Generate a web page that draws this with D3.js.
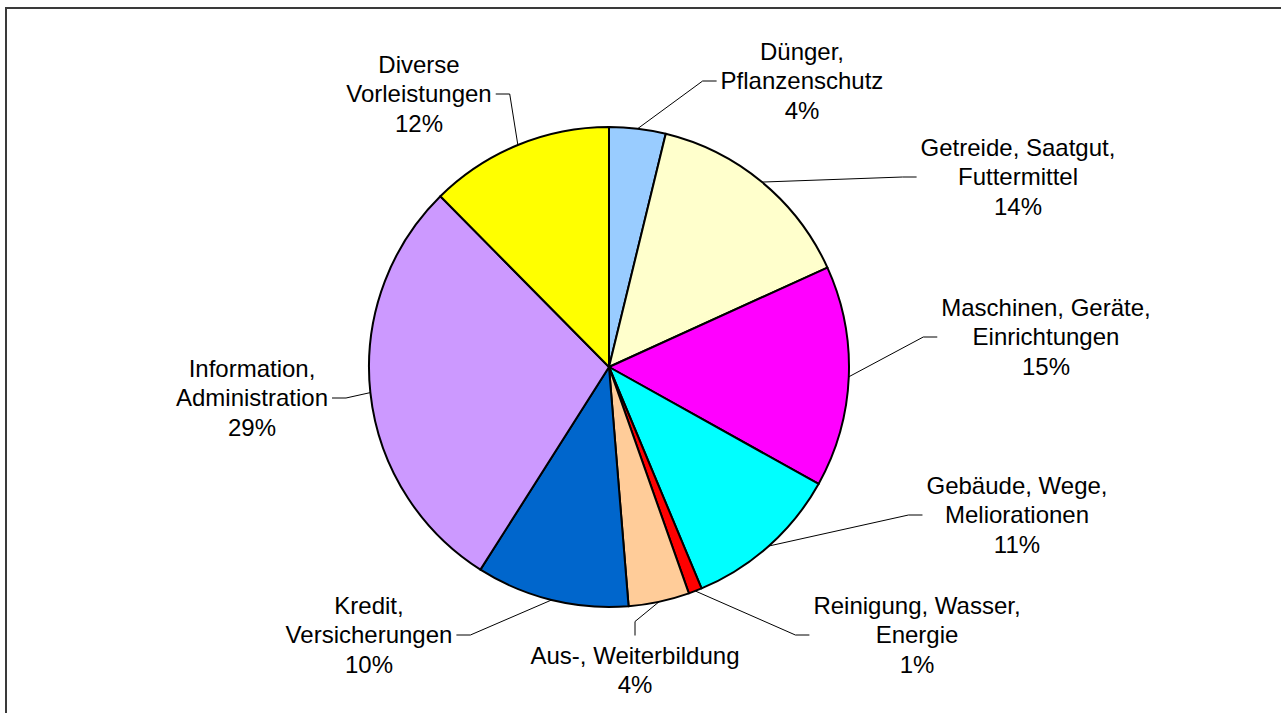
<!DOCTYPE html>
<html>
<head>
<meta charset="utf-8">
<script src="https://cdn.jsdelivr.net/npm/d3@7"></script>
<style>
    body { margin: 0; background: #fff; }
    svg { display: block; }
    text { font-family: "Liberation Sans", Arial, sans-serif; font-size: 24px; fill: #000; }
</style>
</head>
<body>
<script>
var categories = [
    "Dünger,\nPflanzenschutz",
    "Getreide, Saatgut,\nFuttermittel",
    "Maschinen, Geräte,\nEinrichtungen",
    "Gebäude, Wege,\nMeliorationen",
    "Reinigung, Wasser,\nEnergie",
    "Aus-, Weiterbildung",
    "Kredit,\nVersicherungen",
    "Information,\nAdministration",
    "Diverse\nVorleistungen"
];
var values = [3.8, 14.4, 14.9, 10.6, 0.9, 4.1, 10.3, 28.6, 12.4];
var colors = ["#99CCFF", "#FFFFCC", "#FF00FF", "#00FFFF", "#FF0000", "#FFCC99", "#0066CC", "#CC99FF", "#FFFF00"];

// hand placed labels, as in the original: centre x, centre y, side of the pie
var labelPos = [
    [802, 81, "right"],
    [1018, 177, "right"],
    [1046, 337, "right"],
    [1017, 515, "right"],
    [917, 635, "right"],
    [635, 670, "below"],
    [369, 635, "left"],
    [252, 398, "left"],
    [419, 94, "left"]
];

var width = 1281, height = 713;
var cx = 609, cy = 367, radius = 240;
var lh = 29.5;

var svg = d3.select("body").append("svg")
    .attr("width", width)
    .attr("height", height);

// chart area frame (runs off the right and bottom edge)
svg.append("rect")
    .attr("x", 6)
    .attr("y", 8)
    .attr("width", width + 20)
    .attr("height", height + 20)
    .attr("fill", "none")
    .attr("stroke", "#3a3a3a")
    .attr("stroke-width", 2);

var total = d3.sum(values);
var pie = d3.pie().sort(null).value(function (d) { return d; });
var arcs = pie(values);
var arc = d3.arc().innerRadius(0).outerRadius(radius);
var edge = d3.arc().innerRadius(radius).outerRadius(radius);

var g = svg.append("g")
    .attr("transform", "translate(" + cx + "," + cy + ")");

g.selectAll("path.slice")
    .data(arcs)
    .enter()
    .append("path")
    .attr("class", "slice")
    .attr("d", arc)
    .attr("fill", function (d, i) { return colors[i]; })
    .attr("stroke", "#000")
    .attr("stroke-width", 2)
    .attr("stroke-linejoin", "round");

var labels = svg.append("g").attr("id", "labels");

arcs.forEach(function (d, i) {
    var lines = categories[i].split("\n");
    lines.push(Math.round(d.value / total * 100) + "%");
    var n = lines.length;
    var lx = labelPos[i][0], ly = labelPos[i][1], side = labelPos[i][2];

    var t = labels.append("text").attr("text-anchor", "middle");
    var boxW = 0;
    lines.forEach(function (s, k) {
        var ts = t.append("tspan")
            .attr("x", lx)
            .attr("y", ly + (k - (n - 1) / 2) * lh)
            .attr("dy", "0.35em")
            .text(s);
        boxW = Math.max(boxW, ts.node().getComputedTextLength());
    });

    var p0 = edge.centroid(d);
    var start = [cx + p0[0], cy + p0[1]];
    var end, elbow;
    if (side == "right") {
        end = [lx - boxW / 2 - 4, ly];
        elbow = [end[0] - 14, ly];
    } else if (side == "left") {
        end = [lx + boxW / 2 + 4, ly];
        elbow = [end[0] + 14, ly];
    } else {
        end = [lx, ly - n * lh / 2 - 5];
        elbow = [lx, end[1] - 14];
    }
    labels.append("path")
        .attr("d", d3.line()([start, elbow, end]))
        .attr("fill", "none")
        .attr("stroke", "#000")
        .attr("stroke-width", 1);
});
</script>
</body>
</html>
